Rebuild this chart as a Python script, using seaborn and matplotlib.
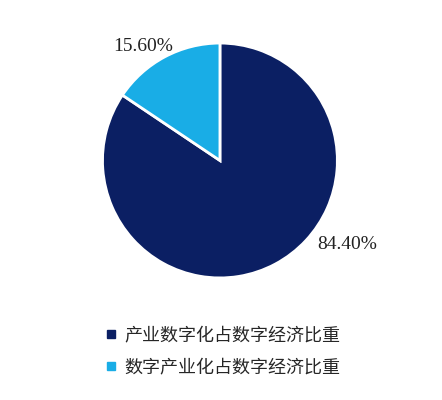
import matplotlib
matplotlib.use("Agg")
import matplotlib.pyplot as plt
from matplotlib.lines import Line2D
import seaborn as sns
import numpy as np

categories = ["产业数字化占数字经济比重", "数字产业化占数字经济比重"]
shares = [84.40, 15.60]
colors = ["#0b1f63", "#19ade6"]

sns.set_theme(style="white")
plt.rcParams["font.family"] = ["Noto Sans CJK SC", "DejaVu Sans"]

fig = plt.figure(figsize=(4.42, 4.0), dpi=100)
ax = fig.add_axes([0.1256, 0.1875, 0.744, 0.8225])

ax.pie(shares, colors=colors, startangle=90, counterclock=False,
       wedgeprops=dict(edgecolor="white", linewidth=2))
ax.set_xlim(-1.4, 1.4)
ax.set_ylim(-1.4, 1.4)
ax.set_aspect("equal")
ax.axis("off")

# percentage labels placed outside the wedges (radius, angle in degrees)
label_pos = [(1.30, -33.4), (1.17, 124.2)]
for val, (r, ang) in zip(shares, label_pos):
    x, y = r * np.cos(np.radians(ang)), r * np.sin(np.radians(ang))
    ax.text(x, y, f"{val:.2f}%", ha="center", va="center", fontsize=14,
            family=["Liberation Serif"], color="#222222")

handles = [Line2D([0], [0], marker="s", linestyle="none", markersize=6,
                  markerfacecolor=c, markeredgecolor=c) for c in colors]
fig.legend(handles, categories, loc="upper left", bbox_to_anchor=(0.24, 0.185),
           frameon=False, fontsize=13, handlelength=0.6, handletextpad=0.4,
           labelspacing=0.8, borderpad=0, borderaxespad=0)

fig.savefig("out.png", dpi=100)
